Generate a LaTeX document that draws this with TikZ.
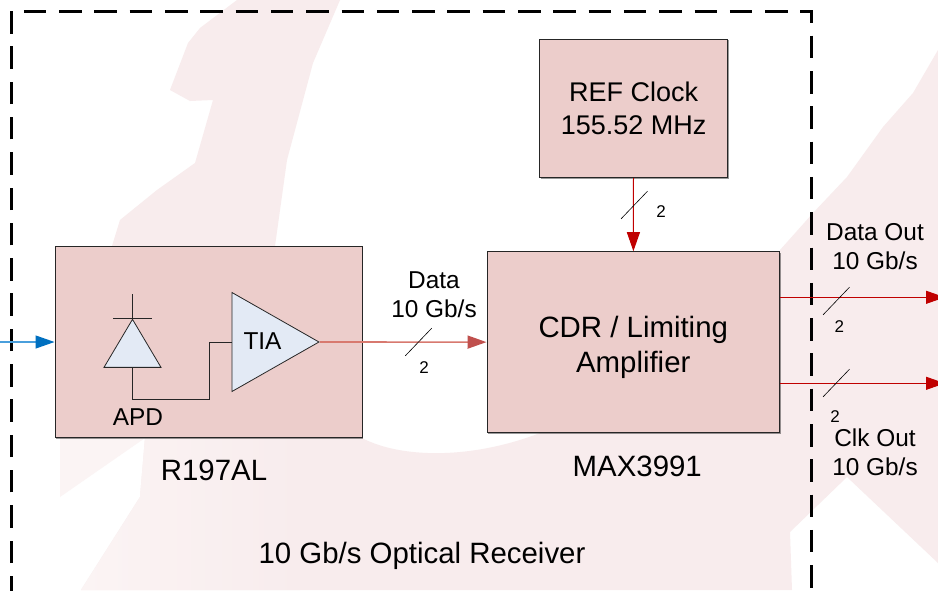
\documentclass[tikz,border=0pt]{standalone}
\usepackage{fontspec}
\setmainfont{Liberation Sans}
\usepackage{xcolor}
\usetikzlibrary{arrows.meta,positioning,shapes.geometric,calc,shadows}
\definecolor{paper}{HTML}{FFFFFF}
\definecolor{wmark}{HTML}{F8ECED}
\definecolor{wpale}{HTML}{FBF4F4}
\definecolor{block}{HTML}{ECCDCB}
\definecolor{device}{HTML}{E3EAF5}
\definecolor{edge}{HTML}{262626}
\definecolor{optic}{HTML}{0070C0}
\definecolor{opticline}{HTML}{4A9FDC}
\definecolor{signal}{HTML}{C00000}
\definecolor{rxdata}{HTML}{C0504D}
\definecolor{rxline}{HTML}{D8796F}
\newcommand{\fsize}[1]{\fontsize{#1}{#1}\selectfont}
\newcommand{\busmark}[1]{\draw[slash] (#1) ++(-13.2,13.8) -- ++(26.4,-27.6);}

\begin{document}
\begin{tikzpicture}[
  x=1pt, y=-1pt,
  font=\fsize{24.4},
  node distance=5pt,
  boxnode/.style={draw=edge, fill=block, line width=1pt, inner sep=0pt, align=center,
    drop shadow={shadow xshift=1pt, shadow yshift=-1.2pt, fill=black, opacity=0.4}},
  amp/.style={draw=edge, fill=device, line width=0.8pt, isosceles triangle, isosceles triangle stretches, inner sep=0pt},
  txt/.style={inner sep=0pt, align=center},
  big/.style={txt, font=\fsize{29.4}},
  buswidth/.style={inner sep=0pt, font=\fsize{17}},
  wire/.style={draw=edge, line width=0.9pt},
  slash/.style={draw=black, line width=0.6pt},
  boundary/.style={draw=black, line width=3pt, dash pattern=on 22.5pt off 12.8pt},
  redarrow/.style={draw=signal, line width=1pt, -{Triangle[length=19pt,width=13pt]}}
]
\useasboundingbox (0,0) rectangle (938,590);
\fill[paper] (0,0) rectangle (938,590);
% watermark
\fill[wmark] (237,0) -- (200,28) -- (188,43) -- (170,90) -- (190,101) -- (213,100) -- (195,163) -- (157,190)
  -- (120,220) -- (112,246) -- (60,438) -- (145,438) -- (140,497) -- (81,590) -- (792,590)
  -- (790,532) -- (847,477) -- (938,563) -- (938,50) -- (913,93) -- (883,127) -- (847,177) -- (813,213)
  -- (780,250) -- (780,433) -- (540,433) .. controls (470,460) and (400,458) .. (362,438) -- (362,246)
  -- (275,246) -- (287,160) -- (313,63) -- (340,0) -- cycle;
\fill[wpale] (60,438) -- (145,438) -- (60,497) -- cycle;
\shade[left color=wpale, right color=wmark] (145,438) -- (140,497) -- (81,590) -- (300,590) -- (300,438) -- cycle;
% outer frame
\draw[boundary] (11,598.3) -- (11,11) -- (811,11) -- (811,600);
% blocks
\node[boxnode, minimum width=307pt, minimum height=191.5pt] (rx) at (208.5,342) {};
\node[boxnode, minimum width=292.5pt, minimum height=181pt] (cdr) at (633.25,342.2) {};
\node[boxnode, minimum width=188pt, minimum height=138.5pt, font=\fsize{27}] (ref) at (633.6,108.4) {REF Clock\\[6pt]155.52 MHz};
\node[big] (cdrlabel) at ($(cdr.center)+(0,5.5)$) {CDR / Limiting\\[5.5pt]Amplifier};
% inside the receiver
\node[amp, anchor=apex, minimum height=87pt, minimum width=99pt] (tia) at (320,342) {};
\node[amp, anchor=apex, shape border rotate=90, minimum height=48pt, minimum width=57pt] (apd) at (132.5,318.3) {};
\node[txt] (tialabel) at (262.5,341) {TIA};
\node[txt, below=41pt of apd.lower side, xshift=5.5pt] (apdlabel) {APD};
\coordinate (apdtop) at ($(apd.apex)+(0,-24)$);
\coordinate (bend) at (209,399.3);
\draw[wire] (apdtop) -- (apd.apex);
\draw[wire] ($(apd.apex)+(-19.5,0)$) -- ($(apd.apex)+(19,0)$);
\draw[wire] (apd.lower side) |- (bend) |- (tia.lower side);
% captions
\node[big, below=22pt of rx, xshift=5.5pt] (rxname) {R197AL};
\node[big, below=23pt of cdr, xshift=4pt] (cdrname) {MAX3991};
\node[big] (title) at (422,556) {10 Gb/s Optical Receiver};
\node[txt] (datalabel) at (434,295) {Data\\[5pt]10 Gb/s};
\node[txt] (outlabel) at (875,246.5) {Data Out\\[5pt]10 Gb/s};
\node[txt] (clklabel) at (875,452) {Clk Out\\[5pt]10 Gb/s};
% connectors
\coordinate (fibre) at (0,342);
\coordinate (dataout) at (945,297.3);
\coordinate (clkout) at (945,383.3);
\draw[draw=opticline, line width=1.3pt, -{Triangle[length=19pt,width=13pt,fill=optic,color=optic]}] (fibre) -- (rx);
\draw[draw=rxline, line width=1.6pt, -{Triangle[length=19pt,width=13pt,fill=rxdata,color=rxdata]}] (tia.apex) -- (cdr);
\draw[redarrow] (ref) -- (cdr);
\draw[redarrow] (cdr.east |- dataout) -- (dataout);
\draw[redarrow] (cdr.east |- clkout) -- (clkout);
% bus marks
\coordinate (bus1) at (418.5,342);
\coordinate (bus2) at (634.3,205);
\coordinate (bus3) at (836.3,301);
\coordinate (bus4) at (836.3,383);
\busmark{bus1}
\busmark{bus2}
\busmark{bus3}
\busmark{bus4}
\node[buswidth] (n1) at (424,367.5) {2};
\node[buswidth] (n2) at (661,211.3) {2};
\node[buswidth] (n3) at (839.3,326.7) {2};
\node[buswidth] (n4) at (835,416.7) {2};
\end{tikzpicture}
\end{document}
